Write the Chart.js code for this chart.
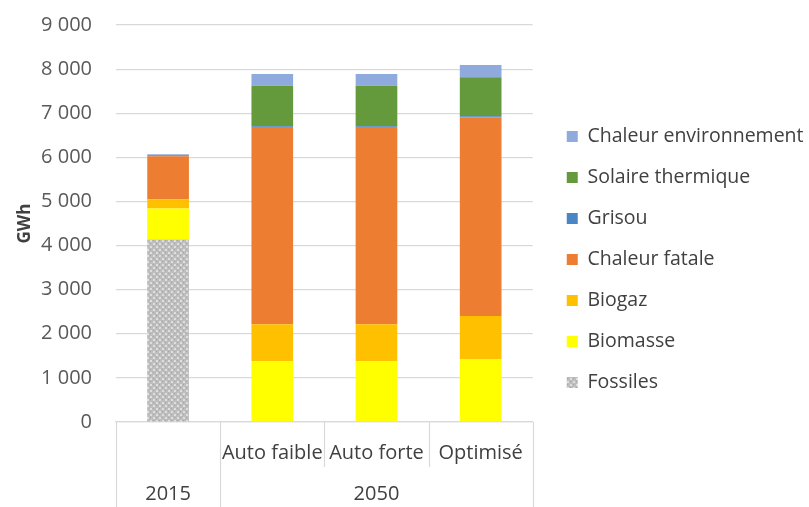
<!DOCTYPE html>
<html>
<head>
<meta charset="utf-8">
<script src="https://cdn.jsdelivr.net/npm/chart.js@4"></script>
<style>
    html, body { margin: 0; padding: 0; background: #fff; }
    #wrap { width: 809px; height: 507px; }
</style>
</head>
<body>
<div id="wrap"><canvas id="energyChart"></canvas></div>
<script>
// categories (first row) and their groups (second row)
const categories = ['', 'Auto faible', 'Auto forte', 'Optimisé'];
const groupLabels = ['2015', '2050'];
const groupSizes = [1, 3];

// GWh, stacked from bottom to top
const fossiles = [4140, 0, 0, 0];
const biomasse = [700, 1380, 1380, 1430];
const biogaz = [210, 835, 835, 975];
const chaleurFatale = [975, 4470, 4470, 4505];
const grisou = [25, 20, 20, 20];
const solaireThermique = [0, 920, 920, 885];
const chaleurEnv = [20, 265, 265, 280];

const yTicks = [0, 1000, 2000, 3000, 4000, 5000, 6000, 7000, 8000, 9000];

const FONT = '"Open Sans", sans-serif';

function makeFossilPattern() {
    const c = document.createElement('canvas');
    c.width = 6;
    c.height = 6;
    const g = c.getContext('2d');
    g.fillStyle = '#bdbdbd';
    g.fillRect(0, 0, 6, 6);
    g.fillStyle = '#dedede';
    g.fillRect(0, 0, 2, 2);
    g.fillRect(3, 3, 2, 2);
    g.fillStyle = '#a4a4a4';
    g.fillRect(3, 0, 1, 1);
    g.fillRect(0, 3, 1, 1);
    return g.createPattern(c, 'repeat');
}

function formatThousands(v) {
    return String(v).replace(/\B(?=(\d{3})+(?!\d))/g, ' ');
}

// draws the category frame and the second label row (2015 / 2050)
const groupAxisPlugin = {
    id: 'groupAxis',
    afterLayout(chart) {
        // leave a small gap between plot and legend
        const lg = chart.legend;
        lg.left += 12.5;
        lg.right += 12.5;
    },
    afterDraw(chart) {
        const ctx = chart.ctx;
        const xs = chart.scales.x;
        const area = chart.chartArea;
        const step = xs.getPixelForValue(1) - xs.getPixelForValue(0);
        const top = area.bottom;
        const bottom = chart.height;

        const groupEdges = [0];
        groupSizes.forEach(n => groupEdges.push(groupEdges[groupEdges.length - 1] + n));

        ctx.save();
        ctx.strokeStyle = '#d9d9d9';
        ctx.lineWidth = 1.2;
        for (let i = 0; i <= categories.length; i++) {
            const px = Math.round(xs.getPixelForValue(0) - step / 2 + i * step) + 0.5;
            const full = groupEdges.includes(i);
            ctx.beginPath();
            ctx.moveTo(px, top);
            ctx.lineTo(px, full ? bottom : top + 45);
            ctx.stroke();
        }

        ctx.fillStyle = '#404040';
        ctx.font = '20px ' + FONT;
        ctx.textAlign = 'center';
        ctx.textBaseline = 'middle';
        groupLabels.forEach((label, g) => {
            const first = groupEdges[g];
            const last = groupEdges[g + 1] - 1;
            const cx = (xs.getPixelForValue(first) + xs.getPixelForValue(last)) / 2;
            ctx.fillText(label, cx, 494);
        });
        ctx.restore();
    }
};

const ctx = document.getElementById('energyChart').getContext('2d');

new Chart(ctx, {
    type: 'bar',
    data: {
        labels: categories,
        datasets: [
            { label: 'Fossiles', data: fossiles, backgroundColor: makeFossilPattern() },
            { label: 'Biomasse', data: biomasse, backgroundColor: '#ffff00' },
            { label: 'Biogaz', data: biogaz, backgroundColor: '#ffc000' },
            { label: 'Chaleur fatale', data: chaleurFatale, backgroundColor: '#ed7d31' },
            { label: 'Grisou', data: grisou, backgroundColor: '#4a86c5' },
            { label: 'Solaire thermique', data: solaireThermique, backgroundColor: '#649a3c' },
            { label: 'Chaleur environnement', data: chaleurEnv, backgroundColor: '#8faadc' }
        ]
    },
    options: {
        responsive: true,
        maintainAspectRatio: false,
        animation: false,
        layout: {
            padding: { top: 25, bottom: 13, left: 0, right: 8 }
        },
        datasets: {
            bar: {
                categoryPercentage: 1,
                barPercentage: 0.4,
                borderWidth: 0
            }
        },
        plugins: {
            tooltip: { enabled: false },
            legend: {
                position: 'right',
                reverse: true,
                maxWidth: 320,
                labels: {
                    boxWidth: 11,
                    boxHeight: 11,
                    padding: 21.5,
                    color: '#404040',
                    font: { family: FONT, size: 19.5 }
                }
            }
        },
        scales: {
            x: {
                stacked: true,
                afterFit: s => { s.height = 72; },
                grid: { display: false, drawTicks: false },
                border: { display: true, color: '#d9d9d9', width: 1.2 },
                ticks: {
                    padding: 19,
                    color: '#404040',
                    maxRotation: 0,
                    autoSkip: false,
                    font: { family: FONT, size: 20 }
                }
            },
            y: {
                stacked: true,
                min: 0,
                max: 9000,
                afterFit: s => { s.width = 116; },
                afterBuildTicks: s => { s.ticks = yTicks.map(v => ({ value: v })); },
                grid: {
                    color: '#d9d9d9',
                    lineWidth: 1.2,
                    drawTicks: true,
                    tickLength: 24,
                    tickColor: 'rgba(0,0,0,0)'
                },
                border: { display: false },
                ticks: {
                    padding: 0,
                    color: '#595959',
                    font: { family: FONT, size: 20 },
                    callback: v => formatThousands(v)
                },
                title: {
                    display: true,
                    text: 'GWh',
                    color: '#404040',
                    padding: { top: 15, bottom: 0 },
                    font: { family: FONT, size: 17, weight: 'bold' }
                }
            }
        }
    },
    plugins: [groupAxisPlugin]
});
</script>
</body>
</html>
